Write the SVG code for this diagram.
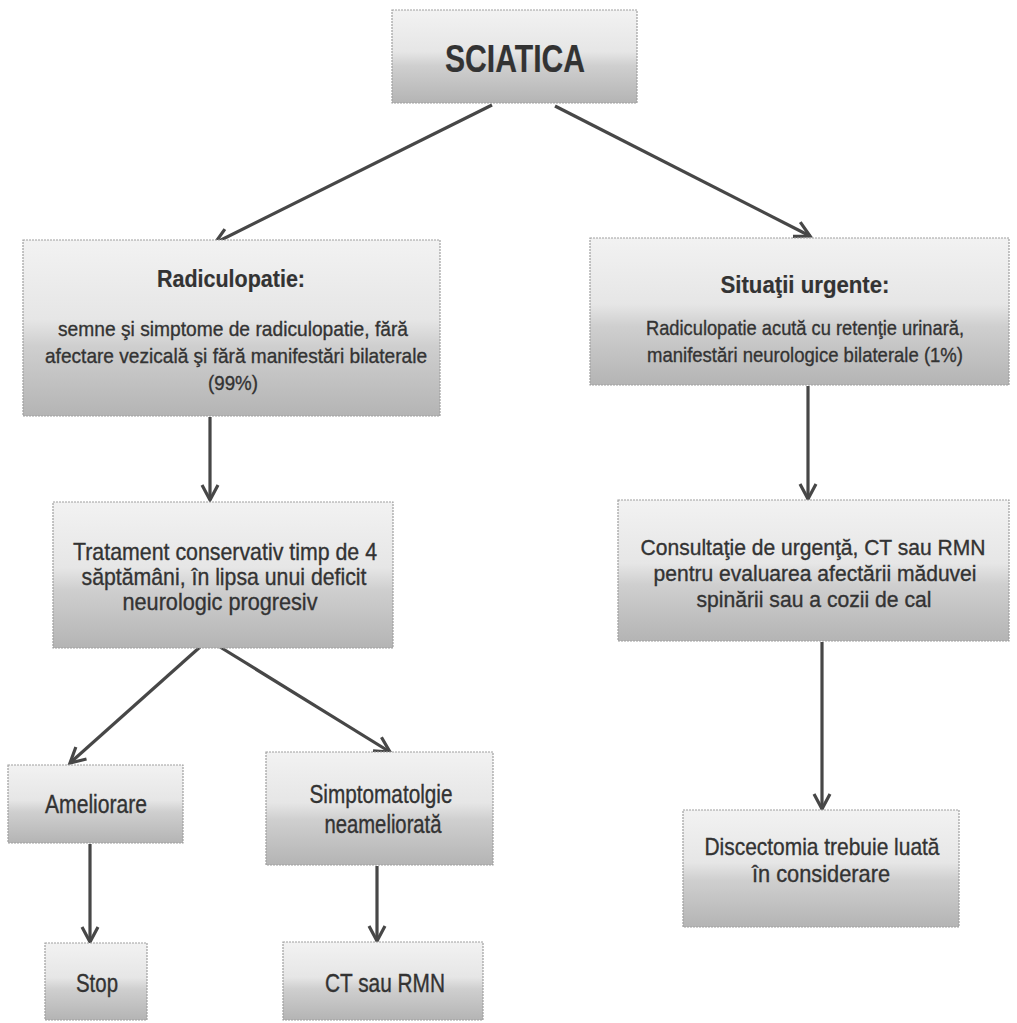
<svg xmlns="http://www.w3.org/2000/svg" width="1017" height="1023" viewBox="0 0 1017 1023">
<style>
.box{fill:url(#g);stroke:#a0a0a0;stroke-width:1.2;stroke-dasharray:2 1}
text{font-family:"Liberation Sans",Arial,sans-serif;fill:#333333;stroke:#333333;stroke-width:0.35;text-anchor:middle}
.b{font-weight:bold;stroke-width:0.2}
.con{fill:none;stroke:#474747;stroke-width:3.2;marker-end:url(#ah)}
</style>
<defs>
<linearGradient id="g" x1="0" y1="0" x2="0" y2="1">
<stop offset="0" stop-color="#f2f2f2"/>
<stop offset="0.45" stop-color="#e6e6e6"/>
<stop offset="0.6" stop-color="#cfcfcf"/>
<stop offset="1" stop-color="#b4b4b4"/>
</linearGradient>
<marker id="ah" markerUnits="userSpaceOnUse" markerWidth="22" markerHeight="22" viewBox="0 0 22 22" refX="19" refY="11" orient="auto">
<path d="M4,3 L19,11 L4,19" fill="none" stroke="#474747" stroke-width="3.2" stroke-linejoin="miter"/>
</marker>
</defs>
<rect width="1017" height="1023" fill="#ffffff"/>
<g id="connectors">
<line class="con" x1="492" y1="105" x2="215" y2="243"/>
<line class="con" x1="555" y1="106" x2="810" y2="236"/>
<line class="con" x1="210" y1="417" x2="210" y2="500"/>
<line class="con" x1="808" y1="386" x2="808" y2="499"/>
<line class="con" x1="200" y1="647" x2="70" y2="763"/>
<line class="con" x1="220" y1="647" x2="390" y2="752"/>
<line class="con" x1="822" y1="642" x2="822" y2="809"/>
<line class="con" x1="90" y1="844" x2="90" y2="942"/>
<line class="con" x1="377" y1="866" x2="377" y2="941"/>
</g>
<g id="sciatica">
<rect class="box" x="392" y="10" width="245" height="93"/>
<text class="b" x="515" y="72" font-size="38" textLength="140" lengthAdjust="spacingAndGlyphs">SCIATICA</text>
</g>
<g id="radiculopatie">
<rect class="box" x="23" y="240" width="417" height="176"/>
<text class="b" x="231" y="287" font-size="24" textLength="148" lengthAdjust="spacingAndGlyphs">Radiculopatie:</text>
<text x="233" y="336" font-size="21" textLength="350" lengthAdjust="spacingAndGlyphs">semne şi simptome de radiculopatie, fără</text>
<text x="236" y="363" font-size="21" textLength="382" lengthAdjust="spacingAndGlyphs">afectare vezicală şi fără manifestări bilaterale</text>
<text x="233" y="390" font-size="21" textLength="50" lengthAdjust="spacingAndGlyphs">(99%)</text>
</g>
<g id="situatii">
<rect class="box" x="590" y="238" width="419" height="147"/>
<text class="b" x="805" y="293" font-size="24" textLength="169" lengthAdjust="spacingAndGlyphs">Situaţii urgente:</text>
<text x="805" y="335" font-size="21" textLength="318" lengthAdjust="spacingAndGlyphs">Radiculopatie acută cu retenţie urinară,</text>
<text x="805" y="362" font-size="21" textLength="316" lengthAdjust="spacingAndGlyphs">manifestări neurologice bilaterale (1%)</text>
</g>
<g id="tratament">
<rect class="box" x="53" y="502" width="340" height="146"/>
<text x="225" y="560" font-size="24" textLength="304" lengthAdjust="spacingAndGlyphs">Tratament conservativ timp de 4</text>
<text x="224" y="585" font-size="24" textLength="285" lengthAdjust="spacingAndGlyphs">săptămâni, în lipsa unui deficit</text>
<text x="220" y="610" font-size="24" textLength="195" lengthAdjust="spacingAndGlyphs">neurologic progresiv</text>
</g>
<g id="consultatie">
<rect class="box" x="618" y="500" width="391" height="141"/>
<text x="813" y="555" font-size="22" textLength="345" lengthAdjust="spacingAndGlyphs">Consultaţie de urgenţă, CT sau RMN</text>
<text x="815" y="581" font-size="22" textLength="323" lengthAdjust="spacingAndGlyphs">pentru evaluarea afectării măduvei</text>
<text x="814" y="607" font-size="22" textLength="235" lengthAdjust="spacingAndGlyphs">spinării sau a cozii de cal</text>
</g>
<g id="ameliorare">
<rect class="box" x="8" y="765" width="175" height="78"/>
<text x="96" y="813" font-size="25" textLength="102" lengthAdjust="spacingAndGlyphs">Ameliorare</text>
</g>
<g id="stop">
<rect class="box" x="45" y="943" width="102" height="77"/>
<text x="97" y="992" font-size="25" textLength="42" lengthAdjust="spacingAndGlyphs">Stop</text>
</g>
<g id="simptomatologie">
<rect class="box" x="266" y="752" width="227" height="113"/>
<text x="381" y="803" font-size="25" textLength="143" lengthAdjust="spacingAndGlyphs">Simptomatolgie</text>
<text x="383" y="833" font-size="25" textLength="117" lengthAdjust="spacingAndGlyphs">neameliorată</text>
</g>
<g id="ct">
<rect class="box" x="283" y="942" width="200" height="78"/>
<text x="385" y="992" font-size="25" textLength="120" lengthAdjust="spacingAndGlyphs">CT sau RMN</text>
</g>
<g id="discectomia">
<rect class="box" x="683" y="810" width="276" height="117"/>
<text x="822" y="855" font-size="24" textLength="235" lengthAdjust="spacingAndGlyphs">Discectomia trebuie luată</text>
<text x="821" y="882" font-size="24" textLength="138" lengthAdjust="spacingAndGlyphs">în considerare</text>
</g>
</svg>
